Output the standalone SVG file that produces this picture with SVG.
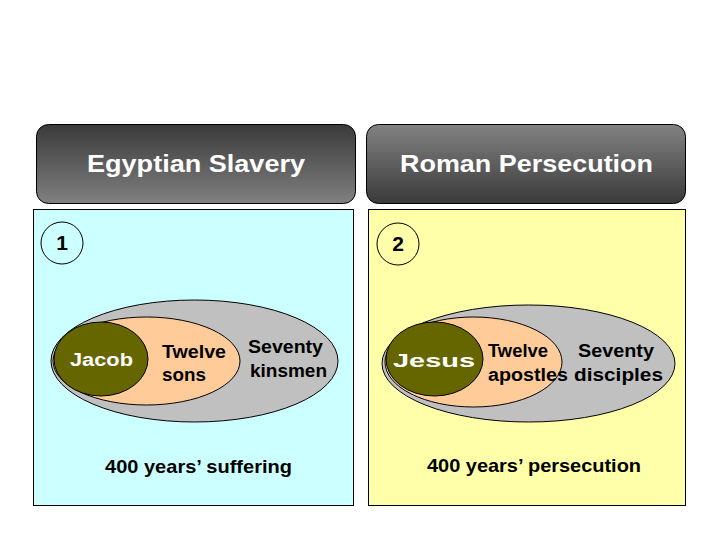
<svg xmlns="http://www.w3.org/2000/svg" width="720" height="540" viewBox="0 0 720 540">
<defs>
<linearGradient id="gDown" x1="0" y1="0" x2="0" y2="1">
<stop offset="0" stop-color="#3a3a3a"/><stop offset="1" stop-color="#808080"/>
</linearGradient>
<linearGradient id="gUp" x1="0" y1="0" x2="0" y2="1">
<stop offset="0" stop-color="#828282"/><stop offset="1" stop-color="#3a3a3a"/>
</linearGradient>
</defs>
<style>
text{font-family:"Liberation Sans",Arial,sans-serif;font-weight:bold}
.hdr{fill:#fff;font-size:23px;text-anchor:middle}
.box{stroke:#000;stroke-width:1}
.panel{stroke:#000;stroke-width:1}
.gray{fill:#c0c0c0;stroke:#000;stroke-width:1}
.peach{fill:#ffcc99;stroke:#000;stroke-width:1}
.olive{fill:#666600;stroke:#000;stroke-width:1}
.num{fill:none;stroke:#000;stroke-width:1}
.lbl{fill:#000;font-size:18px}
.wl{fill:#fff}
.foot{fill:#000;font-size:19px;text-anchor:middle}
</style>
<rect width="720" height="540" fill="#fff"/>
<g id="header-egypt">
<rect class="box" x="36.500" y="124.500" width="319" height="79" rx="12" fill="url(#gDown)"/>
<text class="hdr" x="196" y="172" textLength="218" lengthAdjust="spacingAndGlyphs">Egyptian Slavery</text>
</g>
<g id="header-rome">
<rect class="box" x="366.500" y="124.500" width="319" height="79" rx="12" fill="url(#gUp)"/>
<text class="hdr" x="526.500" y="172" textLength="253" lengthAdjust="spacingAndGlyphs">Roman Persecution</text>
</g>
<g id="panel-1">
<rect class="panel" x="33.500" y="209.500" width="320" height="296" fill="#ccffff"/>
<circle class="num" cx="62" cy="243" r="21"/>
<text x="62" y="250" font-size="21" text-anchor="middle">1</text>
<ellipse class="gray" cx="194.500" cy="361" rx="143.500" ry="61"/>
<ellipse class="peach" cx="146.500" cy="361" rx="93.500" ry="44"/>
<ellipse class="olive" cx="101" cy="359" rx="47" ry="37"/>
<text class="lbl wl" x="70" y="366" font-size="19" textLength="63" lengthAdjust="spacingAndGlyphs">Jacob</text>
<text class="lbl" x="162" y="358" textLength="64" lengthAdjust="spacingAndGlyphs">Twelve</text>
<text class="lbl" x="162" y="381" textLength="44" lengthAdjust="spacingAndGlyphs">sons</text>
<text class="lbl" x="248" y="353" textLength="75" lengthAdjust="spacingAndGlyphs">Seventy</text>
<text class="lbl" x="250" y="377" textLength="77" lengthAdjust="spacingAndGlyphs">kinsmen</text>
<text class="foot" x="198.500" y="473" textLength="187" lengthAdjust="spacingAndGlyphs">400 years’ suffering</text>
</g>
<g id="panel-2">
<rect class="panel" x="368.500" y="209.500" width="317" height="296" fill="#ffffaa"/>
<circle class="num" cx="398" cy="244" r="21"/>
<text x="398" y="251" font-size="21" text-anchor="middle">2</text>
<ellipse class="gray" cx="528.500" cy="363.500" rx="146.500" ry="58.500"/>
<ellipse class="peach" cx="473.500" cy="362" rx="88.500" ry="45"/>
<ellipse class="olive" cx="434.500" cy="359" rx="48.500" ry="37"/>
<text class="lbl wl" x="393" y="367" font-size="22" textLength="82" lengthAdjust="spacingAndGlyphs">Jesus</text>
<text class="lbl" x="488" y="357" textLength="60" lengthAdjust="spacingAndGlyphs">Twelve</text>
<text class="lbl" x="488" y="381" textLength="80" lengthAdjust="spacingAndGlyphs">apostles</text>
<text class="lbl" x="578" y="357" textLength="76" lengthAdjust="spacingAndGlyphs">Seventy</text>
<text class="lbl" x="574" y="381" textLength="89" lengthAdjust="spacingAndGlyphs">disciples</text>
<text class="foot" x="534" y="472" textLength="214" lengthAdjust="spacingAndGlyphs">400 years’ persecution</text>
</g>
</svg>
